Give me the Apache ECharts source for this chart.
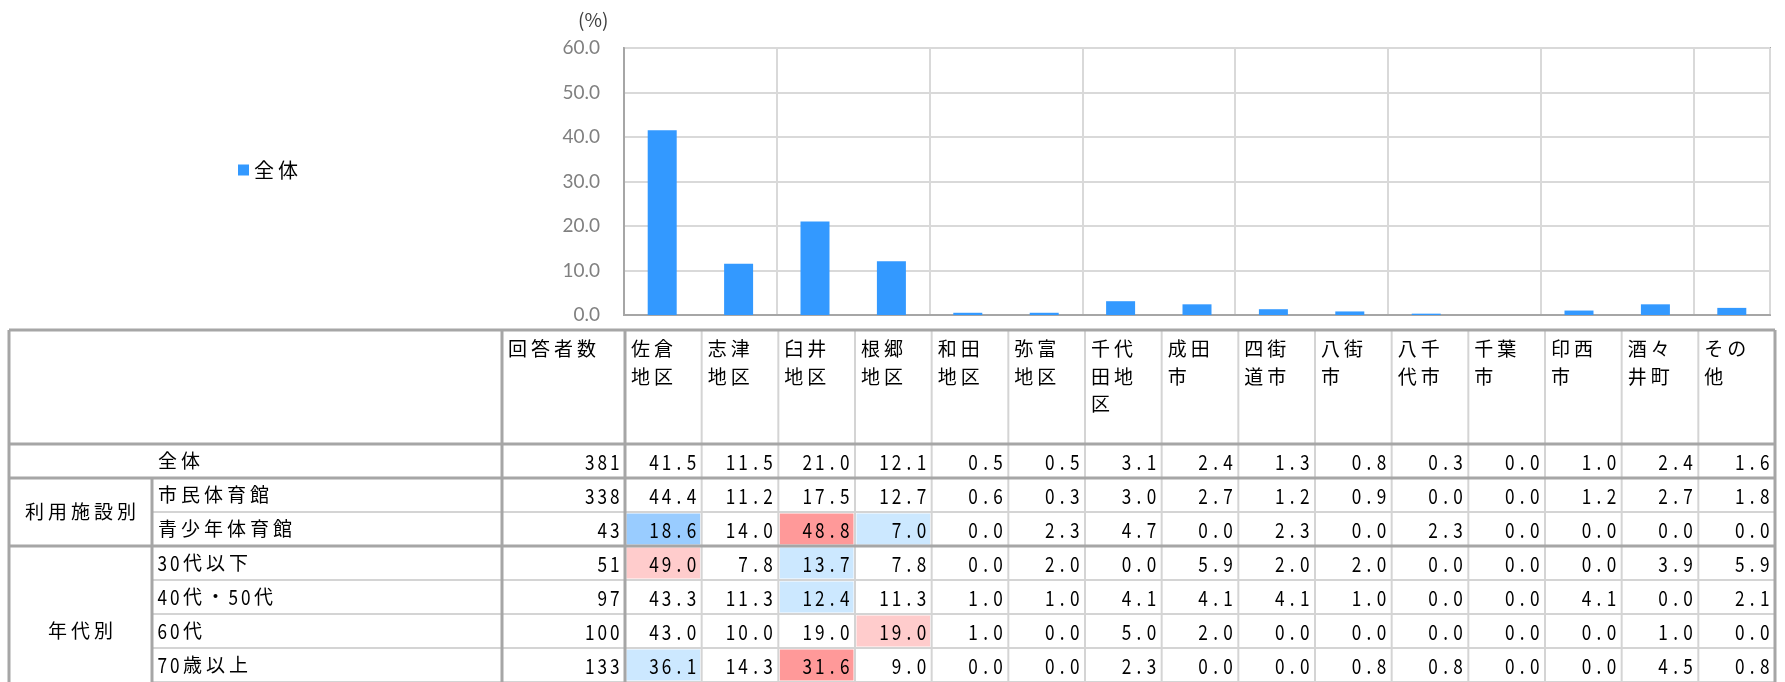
<!DOCTYPE html>
<html>
<head>
<meta charset="utf-8">
<script src="https://cdn.jsdelivr.net/npm/echarts@6/dist/echarts.min.js"></script>
<style>
  html, body { margin: 0; padding: 0; background: #fff; }
  #main { width: 1785px; height: 682px; }
</style>
</head>
<body>
<div id="main"></div>
<script>
// 地区・市町（列）
const regions = ['佐倉地区', '志津地区', '臼井地区', '根郷地区', '和田地区', '弥富地区', '千代田地区',
  '成田市', '四街道市', '八街市', '八千代市', '千葉市', '印西市', '酒々井町', 'その他'];

// 表の行と回答者数
const rowNames = ['全体', '市民体育館', '青少年体育館', '30代以下', '40代・50代', '60代', '70歳以上'];
const respondents = [381, 338, 43, 51, 97, 100, 133];

// 各行の割合（%）
const rowAll   = [41.5, 11.5, 21.0, 12.1, 0.5, 0.5, 3.1, 2.4, 1.3, 0.8, 0.3, 0.0, 1.0, 2.4, 1.6];
const rowCivic = [44.4, 11.2, 17.5, 12.7, 0.6, 0.3, 3.0, 2.7, 1.2, 0.9, 0.0, 0.0, 1.2, 2.7, 1.8];
const rowYouth = [18.6, 14.0, 48.8, 7.0, 0.0, 2.3, 4.7, 0.0, 2.3, 0.0, 2.3, 0.0, 0.0, 0.0, 0.0];
const rowU30   = [49.0, 7.8, 13.7, 7.8, 0.0, 2.0, 0.0, 5.9, 2.0, 2.0, 0.0, 0.0, 0.0, 3.9, 5.9];
const row4050  = [43.3, 11.3, 12.4, 11.3, 1.0, 1.0, 4.1, 4.1, 4.1, 1.0, 0.0, 0.0, 4.1, 0.0, 2.1];
const row60    = [43.0, 10.0, 19.0, 19.0, 1.0, 0.0, 5.0, 2.0, 0.0, 0.0, 0.0, 0.0, 0.0, 1.0, 0.0];
const row70    = [36.1, 14.3, 31.6, 9.0, 0.0, 0.0, 2.3, 0.0, 0.0, 0.8, 0.8, 0.0, 0.0, 4.5, 0.8];
const tableRows = [rowAll, rowCivic, rowYouth, rowU30, row4050, row60, row70];

// 網掛け [行, 列, 区分]  2:かなり高い 1:高い -1:低い -2:かなり低い
const shading = [[2, 0, -2], [2, 2, 2], [2, 3, -1], [3, 0, 1], [3, 2, -1],
  [4, 2, -1], [5, 3, 1], [6, 0, -1], [6, 2, 2]];

// 属性の区分（年代別は切り取られた下の行まで続く）
const groupNames = ['利用施設別', '年代別'];
const groupFrom = [1, 3];
const groupTo = [2, 7];

// 縦軸の目盛
const yTicks = [0, 10, 20, 30, 40, 50, 60];

// ---- 見た目 ----
const FONT = '"Noto Sans CJK JP", sans-serif';
const DARK = '#a6a6a6';
const LIGHT = '#d4d4d4';
const SHADE = { '2': '#ff9999', '1': '#ffcccc', '-1': '#cce8ff', '-2': '#99ccff' };
const PITCH_HALF = 12.5;
const PITCH_FULL = 23;

// 表の枠位置
const X_TABLE = 9, X_GROUP = 152, X_LABEL = 502, X_COUNT = 625, X_END = 1775;
const Y_HEAD = 330, Y_BODY = 444, ROW_H = 34;
const Y_LAST = Y_BODY + ROW_H * rowNames.length + 4;

// 字間をあけた文字列（1文字ずつ置く。半角は縦長に）
function spaced(str, x, y, align) {
  const chars = Array.from(str);
  const half = chars.map((ch) => ch.charCodeAt(0) < 128);
  const w = half.map((h) => (h ? PITCH_HALF : PITCH_FULL));
  const total = w.reduce((a, b) => a + b, 0);
  let cx = align === 'right' ? x - total : align === 'center' ? x - total / 2 : x;
  return chars.map((ch, i) => {
    const el = {
      type: 'text', x: cx + w[i] / 2, y: y,
      scaleX: half[i] ? 0.82 : 1,
      style: {
        text: ch, fill: '#000', fontSize: half[i] ? 21 : 19, fontFamily: FONT,
        align: 'center', verticalAlign: 'middle'
      }
    };
    cx += w[i];
    return el;
  });
}

function line(x1, y1, x2, y2, color, width) {
  return { type: 'line', shape: { x1, y1, x2, y2 }, style: { stroke: color, lineWidth: width || 2 } };
}

function cellBox(api) {
  const c = api.coord([api.value(0), api.value(1)]);
  const s = api.size([1, 1]);
  return { cx: c[0], cy: c[1], x0: c[0] - s[0] / 2, y0: c[1] - s[1] / 2, x1: c[0] + s[0] / 2, y1: c[1] + s[1] / 2, w: s[0], h: s[1] };
}

function shadeOf(r, c) {
  const hit = shading.find((s) => s[0] === r && s[1] === c);
  return hit ? hit[2] : 0;
}

// データ
const bodyData = [];
tableRows.forEach((vals, r) => vals.forEach((v, c) => bodyData.push([c, r, v, shadeOf(r, c)])));
const countData = respondents.map((n, r) => [0, r, n]);
const labelData = rowNames.map((name, r) => [0, r]);
const groupData = groupNames.map((g, i) => [0, groupFrom[i], groupTo[i], i]);
const headData = regions.map((name, c) => [c, 0]);

// 太い罫線
const darkLines = [];
[Y_HEAD, Y_BODY].concat(groupFrom.map((r) => Y_BODY + r * ROW_H)).forEach((y) => {
  darkLines.push({ type: 'line', z: 100, shape: { x1: X_TABLE, y1: y, x2: X_END, y2: y }, style: { stroke: DARK, lineWidth: 3 } });
});
[X_TABLE, X_LABEL, X_COUNT, X_END].forEach((x) => {
  darkLines.push({ type: 'line', z: 100, shape: { x1: x, y1: Y_HEAD, x2: x, y2: Y_LAST }, style: { stroke: DARK, lineWidth: 3 } });
});
darkLines.push({ type: 'line', z: 100, shape: { x1: X_GROUP, y1: Y_BODY + groupFrom[0] * ROW_H, x2: X_GROUP, y2: Y_LAST }, style: { stroke: DARK, lineWidth: 3 } });

const hiddenCat = (data, gridIndex, inverse) => ({ type: 'category', data, gridIndex, show: false, inverse: !!inverse });
const bodyH = ROW_H * rowNames.length;

const option = {
  animation: false,
  backgroundColor: '#fff',
  title: {
    text: '(%)', left: 573, top: 5,
    textStyle: { fontSize: 19, fontWeight: 'normal', color: '#404040', fontFamily: FONT }
  },
  legend: {
    data: ['全体'], left: 233, top: 155, icon: 'rect', itemWidth: 11, itemHeight: 11, itemGap: 6,
    formatter: (name) => Array.from(name).join('\u2009'),
    textStyle: { fontSize: 20, color: '#000', fontFamily: FONT }
  },
  graphic: darkLines,
  grid: [
    { left: 624, top: 48, width: 1146, height: 267, show: true, borderColor: DARK, borderWidth: 2, outerBoundsMode: 'none' },
    { left: X_COUNT, top: Y_BODY, width: X_END - X_COUNT, height: bodyH, outerBoundsMode: 'none' },
    { left: X_COUNT, top: Y_HEAD, width: X_END - X_COUNT, height: Y_BODY - Y_HEAD, outerBoundsMode: 'none' },
    { left: X_LABEL, top: Y_BODY, width: X_COUNT - X_LABEL, height: bodyH, outerBoundsMode: 'none' },
    { left: X_LABEL, top: Y_HEAD, width: X_COUNT - X_LABEL, height: Y_BODY - Y_HEAD, outerBoundsMode: 'none' },
    { left: X_GROUP, top: Y_BODY, width: X_LABEL - X_GROUP, height: bodyH, outerBoundsMode: 'none' },
    { left: X_TABLE, top: Y_BODY, width: X_GROUP - X_TABLE, height: bodyH, outerBoundsMode: 'none' }
  ],
  xAxis: [
    {
      type: 'category', data: regions, gridIndex: 0,
      axisLine: { lineStyle: { color: DARK, width: 2 } },
      axisTick: { show: false }, axisLabel: { show: false },
      splitLine: { show: true, lineStyle: { color: '#d9d9d9', width: 2 } }
    },
    hiddenCat(regions, 1),
    hiddenCat(regions, 2),
    hiddenCat(['回答者数'], 3),
    hiddenCat(['回答者数'], 4),
    hiddenCat([''], 5),
    hiddenCat([''], 6)
  ],
  yAxis: [
    {
      type: 'value', gridIndex: 0,
      min: yTicks[0], max: yTicks[yTicks.length - 1], interval: yTicks[1] - yTicks[0],
      axisLine: { show: true, lineStyle: { color: DARK, width: 2 } },
      axisTick: { show: false },
      axisLabel: { formatter: (v) => v.toFixed(1), color: '#808080', fontSize: 19, fontFamily: 'Lato', margin: 24 },
      splitLine: { lineStyle: { color: '#d9d9d9', width: 2 } }
    },
    hiddenCat(rowNames, 1, true),
    hiddenCat([''], 2),
    hiddenCat(rowNames, 3, true),
    hiddenCat([''], 4),
    hiddenCat(rowNames, 5, true),
    hiddenCat(rowNames, 6, true)
  ],
  series: [
    {
      name: '全体', type: 'bar', xAxisIndex: 0, yAxisIndex: 0,
      data: rowAll, barWidth: 29,
      itemStyle: { color: '#3399ff' }
    },
    {
      // 表の数値セル
      type: 'custom', xAxisIndex: 1, yAxisIndex: 1, data: bodyData, silent: true,
      renderItem: (params, api) => {
        const b = cellBox(api);
        const kids = [];
        const lv = api.value(3);
        if (lv) {
          kids.push({ type: 'rect', shape: { x: b.x0 + 1.5, y: b.y0 + 1.5, width: b.w - 3, height: b.h - 3 }, style: { fill: SHADE[lv] } });
        }
        kids.push(line(b.x0, b.y1, b.x1, b.y1, LIGHT), line(b.x1, b.y0, b.x1, b.y1, LIGHT));
        return { type: 'group', children: kids.concat(spaced(api.value(2).toFixed(1), b.x1 - 4, b.cy + 1, 'right')) };
      }
    },
    {
      // 見出し（地区名）
      type: 'custom', xAxisIndex: 2, yAxisIndex: 2, data: headData, silent: true,
      renderItem: (params, api) => {
        const b = cellBox(api);
        const name = regions[api.value(0)];
        const kids = [line(b.x1, b.y0, b.x1, b.y1, LIGHT)];
        for (let i = 0; i * 2 < name.length; i++) {
          kids.push(...spaced(name.slice(i * 2, i * 2 + 2), b.x0 + 4, b.y0 + 19 + i * 27.5, 'left'));
        }
        return { type: 'group', children: kids };
      }
    },
    {
      // 回答者数
      type: 'custom', xAxisIndex: 3, yAxisIndex: 3, data: countData, silent: true,
      renderItem: (params, api) => {
        const b = cellBox(api);
        const kids = [line(b.x0, b.y1, b.x1, b.y1, LIGHT)];
        return { type: 'group', children: kids.concat(spaced(String(api.value(2)), b.x1 - 4, b.cy + 1, 'right')) };
      }
    },
    {
      type: 'custom', xAxisIndex: 4, yAxisIndex: 4, data: [[0, 0]], silent: true,
      renderItem: (params, api) => {
        const b = cellBox(api);
        return { type: 'group', children: spaced('回答者数', b.x0 + 4, b.y0 + 19, 'left') };
      }
    },
    {
      // 行ラベル
      type: 'custom', xAxisIndex: 5, yAxisIndex: 5, data: labelData, silent: true,
      renderItem: (params, api) => {
        const b = cellBox(api);
        const kids = [line(b.x0, b.y1, b.x1, b.y1, LIGHT)];
        return { type: 'group', children: kids.concat(spaced(rowNames[api.value(1)], b.x0 + 4, b.cy, 'left')) };
      }
    },
    {
      // 属性区分
      type: 'custom', xAxisIndex: 6, yAxisIndex: 6, data: groupData, silent: true,
      renderItem: (params, api) => {
        const a = api.coord([0, api.value(1)]);
        const z = api.coord([0, api.value(2)]);
        return { type: 'group', children: spaced(groupNames[api.value(3)], a[0], (a[1] + z[1]) / 2, 'center') };
      }
    }
  ]
};

const chart = echarts.init(document.getElementById('main'));
chart.setOption(option);
</script>
</body>
</html>
